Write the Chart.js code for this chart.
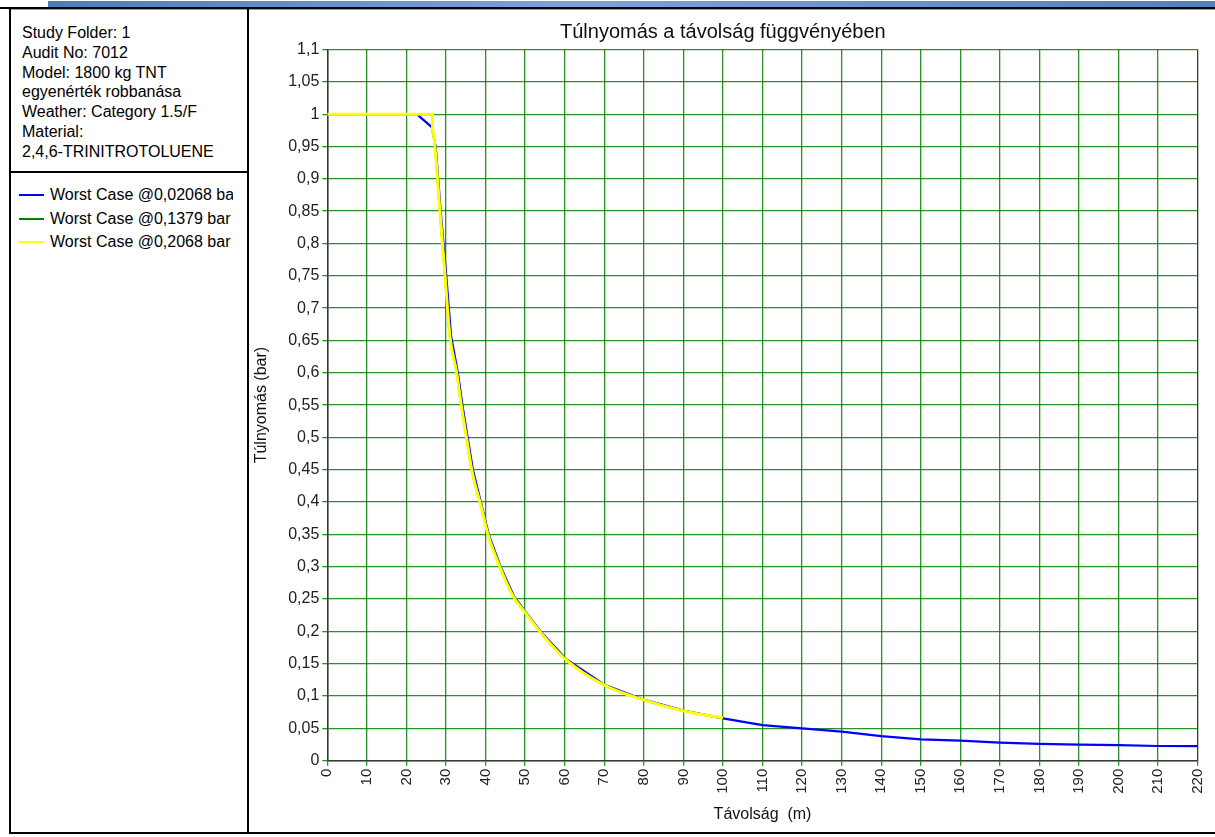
<!DOCTYPE html>
<html>
<head>
<meta charset="utf-8">
<script src="https://cdn.jsdelivr.net/npm/chart.js@4.4.0/dist/chart.umd.min.js"></script>
<style>
  html, body { margin: 0; padding: 0; background: #fff; }
  body { width: 1215px; height: 837px; position: relative; overflow: hidden;
         font-family: "Liberation Sans", Arial, sans-serif; color: #000; }
  #strip { position: absolute; left: 48px; top: 1px; width: 1167px; height: 6px;
           background: linear-gradient(to right, #4a7ebb 0%, #7ba4d6 45%, #4f81bd 100%); }
  #rule { position: absolute; left: 0; top: 7px; width: 1215px; height: 2px; background: #000; }
  #topgray { position: absolute; left: 9px; top: 9px; width: 1206px; height: 1px; background: #9a9a9a; }
  #side { position: absolute; left: 9px; top: 9px; width: 236px; height: 823px;
          border-left: 2px solid #000; border-right: 2px solid #000; }
  #bottom { position: absolute; left: 9px; top: 832px; width: 1206px; height: 2px; background: #000; }
  #divider { position: absolute; left: 9px; top: 171px; width: 238px; height: 2px; background: #000; }
  #info { position: absolute; left: 22px; top: 23px; font-size: 16px; line-height: 19.8px; white-space: nowrap; }
  #legend { position: absolute; left: 19px; top: 183px; width: 214px; overflow: hidden; font-size: 16px; }
  .row { height: 23.5px; line-height: 23.5px; white-space: nowrap; position: relative; }
  .swatch { position: absolute; left: 0; top: 11px; width: 25px; height: 2px; }
  .row span { position: absolute; left: 31px; }
  canvas { position: absolute; left: 248px; top: 10px; }
</style>
</head>
<body>
<div id="strip"></div>
<div id="rule"></div>
<div id="topgray"></div>
<div id="side"></div>
<div id="divider"></div>
<div id="bottom"></div>
<div id="info">
  Study Folder: 1<br>
  Audit No: 7012<br>
  Model: 1800 kg TNT<br>
  egyenérték robbanása<br>
  Weather: Category 1.5/F<br>
  Material:<br>
  2,4,6-TRINITROTOLUENE
</div>
<div id="legend"></div>
<canvas id="chart" width="967" height="822"></canvas>
<script>
// Túlnyomás (bar) a távolság (m) függvényében — leolvasott értékek
const seriesNames = ['Worst Case @0,02068 bar', 'Worst Case @0,1379 bar', 'Worst Case @0,2068 bar'];
const seriesColors = ['#0000ff', '#008000', '#ffff00'];

const blueDist = [0, 22.6, 26.4, 27.4, 28.7, 30.0, 31.3, 33.0, 34.2, 35.5, 36.8, 39.2, 40.9, 43.8, 47.2,
  50.4, 53.9, 60.2, 70.2, 80.2, 90.3, 100.4, 110, 120, 130, 140, 150, 160, 170, 180, 190, 200, 210, 220];
const bluePress = [1, 1, 0.98, 0.95, 0.847, 0.755, 0.656, 0.60, 0.548, 0.499, 0.45, 0.39, 0.348, 0.30, 0.254,
  0.228, 0.20, 0.158, 0.117, 0.094, 0.077, 0.065, 0.055, 0.050, 0.045, 0.038, 0.033, 0.031, 0.028, 0.026,
  0.025, 0.024, 0.0227, 0.0225];

const greenDist = [0, 26.6, 26.6, 27.2, 28.5, 29.7, 31.0, 32.7, 33.9, 35.2, 36.5, 39.0, 40.7, 43.6, 47.0,
  50.2, 53.7, 60, 70, 80, 90, 100];
const greenPress = [1, 1, 0.975, 0.95, 0.847, 0.755, 0.656, 0.60, 0.548, 0.499, 0.45, 0.39, 0.348, 0.30, 0.254,
  0.228, 0.20, 0.158, 0.117, 0.094, 0.077, 0.066];

const yellowDist = [0, 26.6, 26.6, 27.2, 28.5, 29.7, 31.0, 32.7, 33.9, 35.2, 36.5, 39.0, 40.7, 43.6, 47.0,
  50.2, 53.7, 60, 70, 80, 90, 100];
const yellowPress = [1, 1, 0.975, 0.95, 0.847, 0.755, 0.656, 0.60, 0.548, 0.499, 0.45, 0.39, 0.348, 0.30, 0.254,
  0.228, 0.20, 0.158, 0.117, 0.094, 0.077, 0.066];

const FONT = '"Liberation Sans", Arial, sans-serif';
const GRID = 'rgba(0,128,0,0.85)';
const AXIS = '#3a3a3a';

// bal oldali jelmagyarázat
const legendBox = document.getElementById('legend');
seriesNames.forEach((name, i) => {
  const row = document.createElement('div');
  row.className = 'row';
  row.innerHTML = '<div class="swatch" style="background:' + seriesColors[i] + '"></div><span>' + name + '</span>';
  legendBox.appendChild(row);
});

const toPoints = (xs, ys) => xs.map((x, i) => ({ x: x, y: ys[i] }));

new Chart(document.getElementById('chart'), {
  type: 'line',
  data: {
    datasets: [
      { label: seriesNames[0], data: toPoints(blueDist, bluePress), borderColor: seriesColors[0],
        borderWidth: 2.2, pointRadius: 0, fill: false, order: 3, tension: 0 },
      { label: seriesNames[1], data: toPoints(greenDist, greenPress), borderColor: seriesColors[1],
        borderWidth: 2.2, pointRadius: 0, fill: false, order: 2, cubicInterpolationMode: 'monotone' },
      { label: seriesNames[2], data: toPoints(yellowDist, yellowPress), borderColor: seriesColors[2],
        borderWidth: 3, pointRadius: 0, fill: false, order: 1, cubicInterpolationMode: 'monotone' },
    ],
  },
  options: {
    responsive: false,
    animation: false,
    layout: { padding: { top: 0, left: 0, right: 17.3, bottom: 0 } },
    plugins: {
      legend: { display: false },
      tooltip: { enabled: false },
      title: {
        display: true,
        text: 'Túlnyomás a távolság függvényében',
        color: '#111',
        font: { family: FONT, size: 20, weight: 'normal' },
        padding: { top: 10, bottom: 5.5 },
      },
    },
    scales: {
      x: {
        type: 'linear',
        min: 0,
        max: 220,
        afterFit: s => { s.height = 71.3; s.paddingRight = 8; s.paddingLeft = 8; },
        border: { color: AXIS, width: 1.5 },
        grid: {
          color: c => (c.tick && c.tick.value === 220 ? AXIS : GRID),
          lineWidth: 1.3,
          tickLength: 5,
          tickColor: GRID,
        },
        ticks: {
          stepSize: 10,
          autoSkip: false,
          minRotation: 90,
          maxRotation: 90,
          padding: 3,
          color: '#222',
          font: { family: FONT, size: 15 },
        },
        title: {
          display: true,
          text: 'Távolság  (m)',
          color: '#111',
          font: { family: FONT, size: 16 },
          padding: { top: 0, bottom: 7.4 },
        },
      },
      y: {
        min: 0,
        max: 1.1,
        afterFit: s => { s.width = 79.3; },
        border: { color: AXIS, width: 1.5 },
        grid: { color: GRID, lineWidth: 1.3, tickLength: 5, tickColor: GRID },
        ticks: {
          stepSize: 0.05,
          padding: 3,
          color: '#222',
          font: { family: FONT, size: 16 },
          callback: v => String(Math.round(v * 100) / 100).replace('.', ','),
        },
        title: {
          display: true,
          text: 'Túlnyomás (bar)',
          color: '#111',
          font: { family: FONT, size: 16 },
          padding: { top: 4.4, bottom: 0 },
        },
      },
    },
  },
});
</script>
</body>
</html>
